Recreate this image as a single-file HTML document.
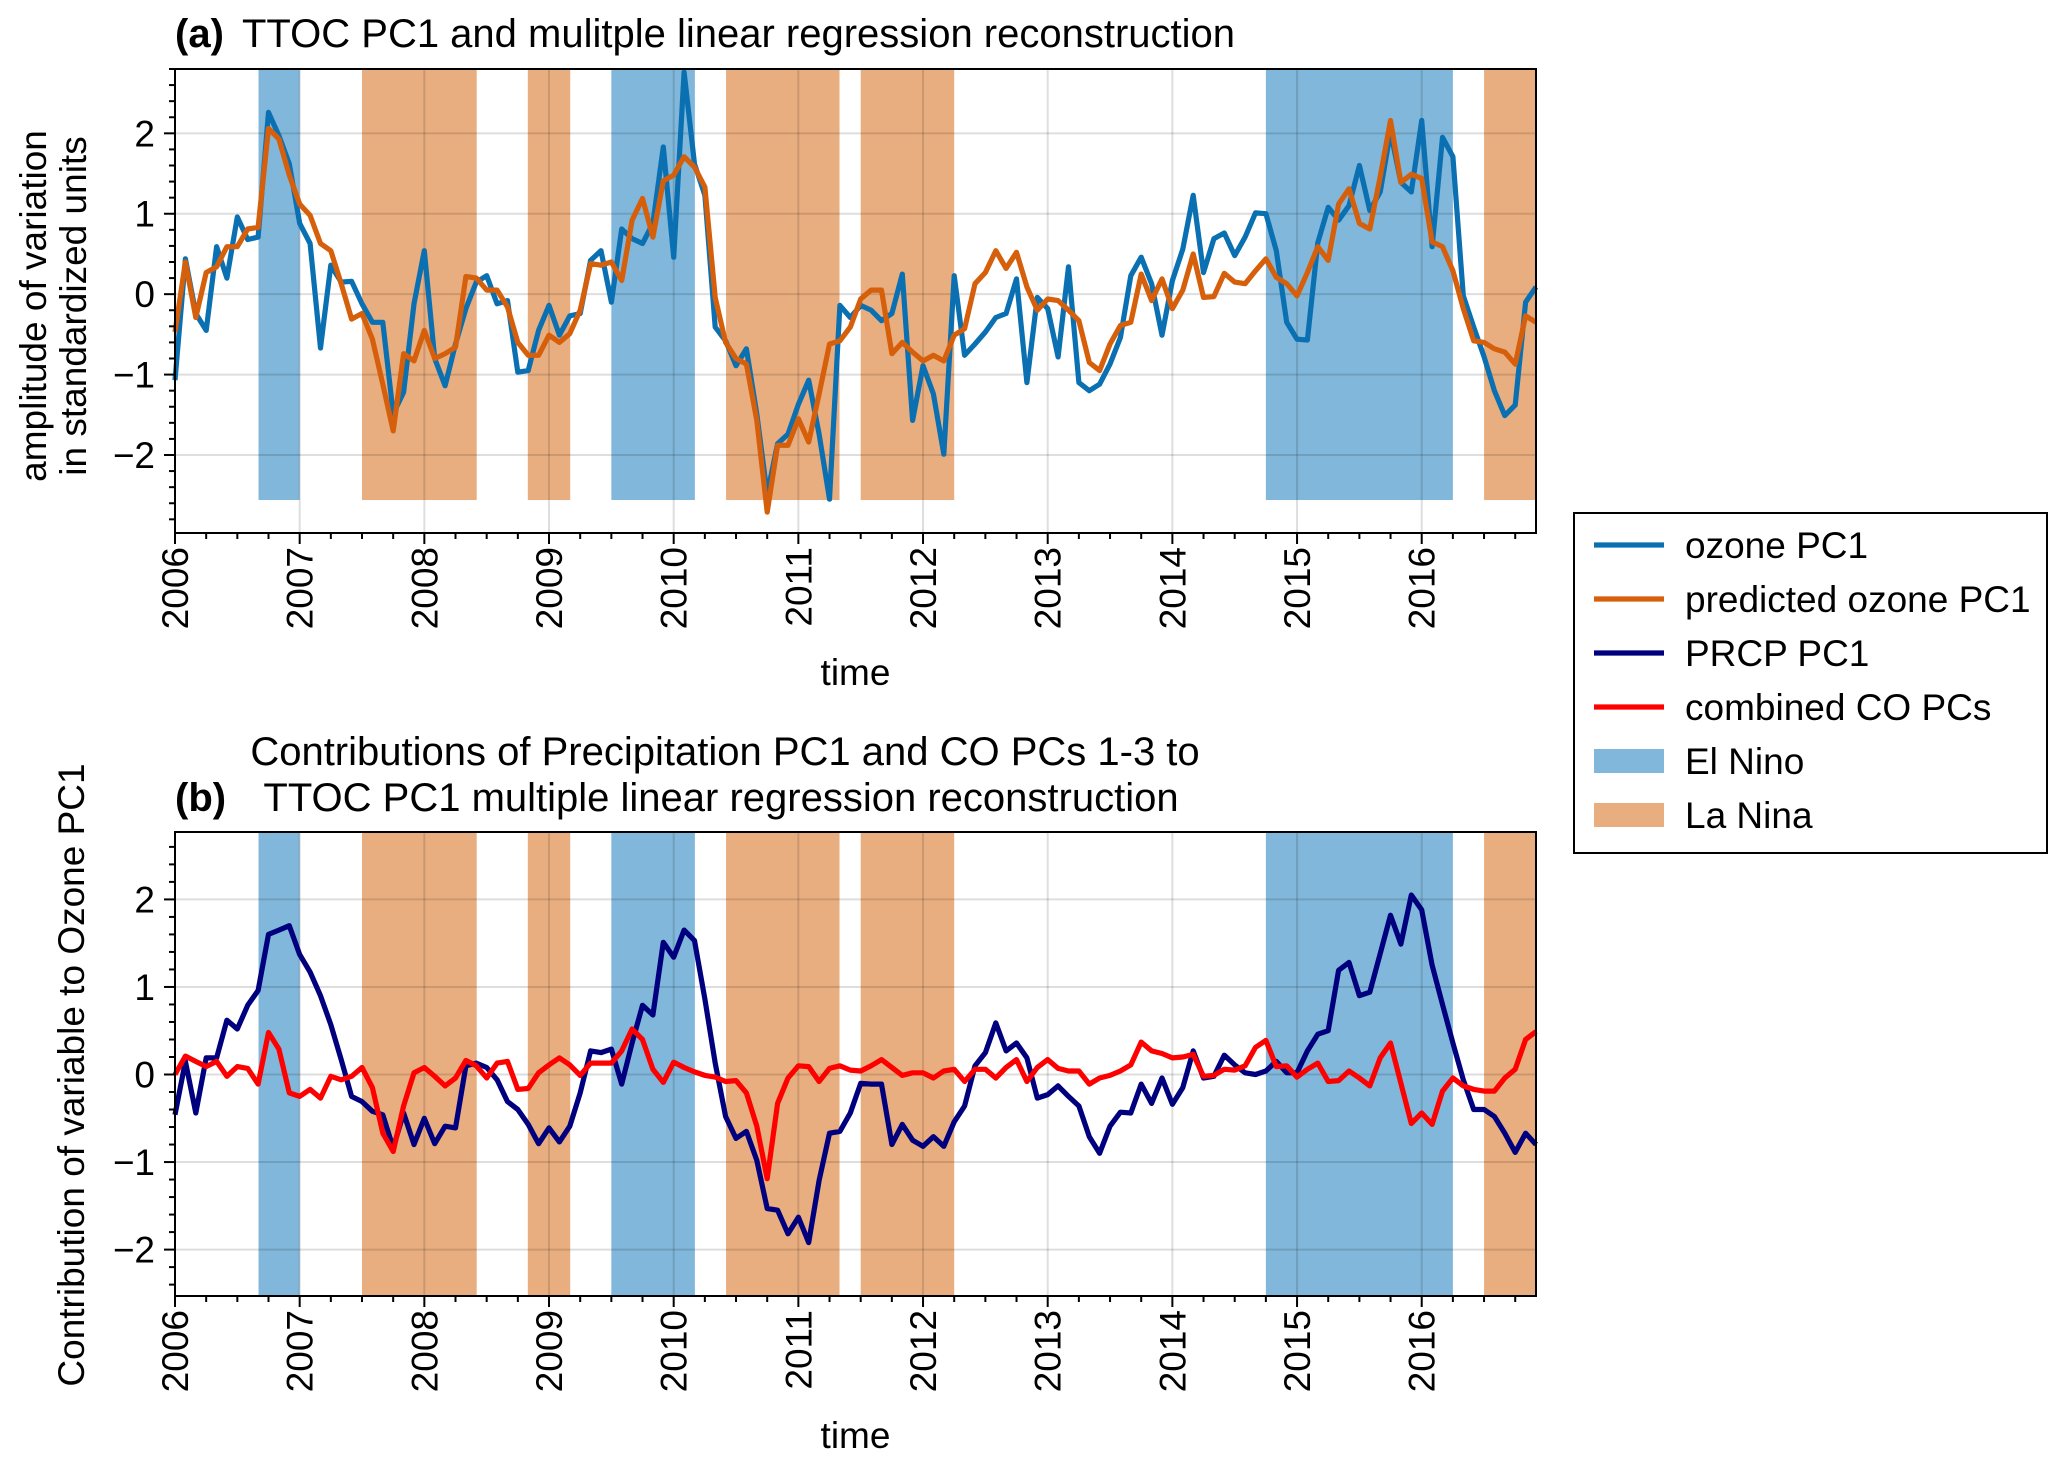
<!DOCTYPE html>
<html><head><meta charset="utf-8"><style>
html,body{margin:0;padding:0;background:#fff}
svg{display:block;font-family:"Liberation Sans",sans-serif}
</style></head><body>
<svg id="fig" width="2067" height="1466" viewBox="0 0 2067 1466"></svg>
<script>
const ozonePC1=[-1.07,0.44,-0.24,-0.45,0.59,0.2,0.96,0.68,0.71,2.26,1.97,1.62,0.88,0.63,-0.67,0.36,0.15,0.16,-0.12,-0.35,-0.35,-1.49,-1.22,-0.12,0.54,-0.8,-1.14,-0.62,-0.18,0.15,0.23,-0.12,-0.08,-0.97,-0.95,-0.45,-0.14,-0.51,-0.27,-0.24,0.42,0.54,-0.1,0.81,0.69,0.63,0.88,1.83,0.46,2.76,1.62,1.23,-0.41,-0.58,-0.89,-0.68,-1.49,-2.49,-1.86,-1.74,-1.37,-1.07,-1.74,-2.55,-0.14,-0.29,-0.14,-0.2,-0.33,-0.24,0.25,-1.57,-0.89,-1.24,-1.99,0.23,-0.76,-0.62,-0.47,-0.29,-0.24,0.19,-1.1,-0.04,-0.18,-0.78,0.34,-1.1,-1.2,-1.12,-0.87,-0.54,0.23,0.46,0.13,-0.51,0.17,0.56,1.23,0.27,0.69,0.76,0.48,0.71,1.01,1.0,0.54,-0.35,-0.56,-0.57,0.64,1.08,0.92,1.1,1.6,1.04,1.27,2.02,1.39,1.27,2.16,0.59,1.95,1.71,-0.02,-0.41,-0.78,-1.2,-1.51,-1.38,-0.1,0.09];
const predictedPC1=[-0.47,0.4,-0.29,0.27,0.34,0.59,0.59,0.81,0.83,2.06,1.93,1.48,1.12,0.98,0.63,0.54,0.13,-0.31,-0.24,-0.56,-1.12,-1.7,-0.74,-0.83,-0.45,-0.8,-0.74,-0.66,0.22,0.2,0.05,0.05,-0.16,-0.6,-0.76,-0.76,-0.51,-0.6,-0.49,-0.2,0.38,0.36,0.4,0.17,0.92,1.19,0.71,1.41,1.48,1.71,1.58,1.33,-0.04,-0.6,-0.8,-0.87,-1.57,-2.71,-1.88,-1.88,-1.55,-1.84,-1.24,-0.62,-0.58,-0.41,-0.06,0.05,0.05,-0.74,-0.6,-0.72,-0.83,-0.76,-0.83,-0.51,-0.43,0.13,0.27,0.54,0.32,0.52,0.09,-0.2,-0.06,-0.08,-0.2,-0.33,-0.85,-0.95,-0.62,-0.39,-0.35,0.25,-0.08,0.19,-0.18,0.05,0.5,-0.04,-0.03,0.26,0.15,0.13,0.29,0.44,0.21,0.13,-0.02,0.27,0.59,0.42,1.12,1.31,0.88,0.81,1.46,2.16,1.39,1.49,1.44,0.65,0.59,0.29,-0.18,-0.58,-0.6,-0.68,-0.72,-0.87,-0.27,-0.35];
const prcpPC1=[-0.46,0.15,-0.44,0.19,0.19,0.62,0.52,0.79,0.96,1.6,1.65,1.7,1.37,1.17,0.9,0.57,0.17,-0.25,-0.31,-0.42,-0.46,-0.84,-0.44,-0.8,-0.5,-0.79,-0.59,-0.61,0.1,0.13,0.08,-0.06,-0.31,-0.4,-0.57,-0.79,-0.61,-0.77,-0.59,-0.21,0.27,0.25,0.29,-0.11,0.36,0.79,0.68,1.51,1.34,1.65,1.53,0.86,0.13,-0.48,-0.73,-0.65,-0.98,-1.53,-1.55,-1.82,-1.63,-1.92,-1.21,-0.67,-0.65,-0.44,-0.1,-0.11,-0.11,-0.8,-0.57,-0.75,-0.82,-0.71,-0.82,-0.54,-0.36,0.1,0.25,0.59,0.27,0.36,0.19,-0.27,-0.23,-0.13,-0.25,-0.36,-0.71,-0.9,-0.59,-0.43,-0.44,-0.11,-0.33,-0.04,-0.34,-0.15,0.27,-0.04,-0.02,0.22,0.11,0.02,0,0.04,0.15,0.02,0.02,0.27,0.46,0.5,1.19,1.28,0.9,0.94,1.38,1.82,1.49,2.05,1.88,1.25,0.8,0.36,-0.06,-0.4,-0.4,-0.48,-0.67,-0.89,-0.67,-0.8];
const coPCs=[0,0.21,0.15,0.09,0.15,-0.02,0.09,0.07,-0.11,0.48,0.29,-0.21,-0.25,-0.17,-0.27,-0.02,-0.06,-0.02,0.08,-0.15,-0.67,-0.88,-0.36,0.02,0.08,-0.02,-0.13,-0.04,0.16,0.1,-0.04,0.13,0.15,-0.17,-0.16,0.02,0.11,0.19,0.11,-0.01,0.13,0.13,0.13,0.27,0.52,0.4,0.06,-0.09,0.14,0.08,0.03,-0.01,-0.03,-0.08,-0.07,-0.21,-0.59,-1.19,-0.33,-0.04,0.1,0.09,-0.08,0.07,0.1,0.05,0.04,0.1,0.17,0.08,-0.01,0.02,0.02,-0.04,0.04,0.06,-0.08,0.06,0.06,-0.04,0.08,0.17,-0.08,0.08,0.17,0.07,0.04,0.04,-0.11,-0.04,-0.01,0.04,0.11,0.37,0.27,0.24,0.19,0.2,0.23,-0.02,-0.01,0.06,0.05,0.1,0.31,0.39,0.09,0.1,-0.03,0.06,0.13,-0.08,-0.07,0.04,-0.04,-0.13,0.19,0.36,-0.1,-0.56,-0.44,-0.57,-0.19,-0.04,-0.13,-0.17,-0.19,-0.19,-0.04,0.06,0.4,0.49];
const elNinoStart=[2006.67,2009.5,2014.75];
const elNinoEnd=[2007.0,2010.17,2016.25];
const laNinaStart=[2007.5,2008.83,2010.42,2011.5,2016.5];
const laNinaEnd=[2008.42,2009.17,2011.33,2012.25,2016.92];
const yearTicks=[2006,2007,2008,2009,2010,2011,2012,2013,2014,2015,2016];
const yTicks=[-2,-1,0,1,2];

const NS="http://www.w3.org/2000/svg";
const svg=document.getElementById('fig');
function mk(tag,attrs,parent){const e=document.createElementNS(NS,tag);for(const k in attrs)e.setAttribute(k,attrs[k]);(parent||svg).appendChild(e);return e;}
const X0=2006,X1=2006+131/12;
const L=175,R=1536;
const FS=37, TS=40, LW=5.2;
function xs(t){return L+(t-X0)/(X1-X0)*(R-L);}
function tOf(i){return 2006+i/12;}

function panel(p){
  const ys=v=>p.bottom-(v-p.ymin)/(p.ymax-p.ymin)*(p.bottom-p.top);
  const g=mk('g',{});
  
  
  const bandBottom=p.bandMin===null?p.bottom:ys(p.bandMin);
  for(let i=0;i<elNinoStart.length;i++){
    const r=mk('rect',{x:xs(elNinoStart[i]),y:p.top,width:xs(elNinoEnd[i])-xs(elNinoStart[i]),height:bandBottom-p.top,fill:'#80b7da'},g);
    
    
  }
  for(let i=0;i<laNinaStart.length;i++){
    const e=Math.min(laNinaEnd[i],X1);
    const r=mk('rect',{x:xs(laNinaStart[i]),y:p.top,width:xs(e)-xs(laNinaStart[i]),height:bandBottom-p.top,fill:'#e9ae7f'},g);
    
    
  }
  for(const yr of yearTicks){
    const l=mk('line',{x1:xs(yr),x2:xs(yr),y1:p.top,y2:p.bottom,stroke:'rgba(0,0,0,0.13)','stroke-width':2},g);
    
    
  }
  for(const v of yTicks){
    const l=mk('line',{x1:L,x2:R,y1:ys(v),y2:ys(v),stroke:'rgba(0,0,0,0.13)','stroke-width':2},g);
    
    
  }
  for(const s of p.series){
    const d=s.data.map((v,i)=>(i?'L':'M')+xs(tOf(i)).toFixed(1)+','+ys(v).toFixed(1)).join(' ');
    const path=mk('path',{d:d,fill:'none',stroke:s.color,'stroke-width':LW,'stroke-linejoin':'round'},g);
    
    
  }
  const fr=mk('rect',{x:L,y:p.top,width:R-L,height:p.bottom-p.top,fill:'none',stroke:'#000','stroke-width':2},g);
  
  
  for(let v=Math.ceil(p.ymin*5)/5;v<=p.ymax+1e-9;v+=0.2){
    const major=Math.abs(v-Math.round(v))<1e-6;
    const t=mk('line',{x1:L,x2:L-(major?11:6),y1:ys(v),y2:ys(v),stroke:'#000','stroke-width':2},g);
    
    
  }
  for(const v of yTicks){
    const tx=mk('text',{x:L-20,y:ys(v)+13,'text-anchor':'end','font-size':FS},g);
    tx.textContent=v<0?'\u2212'+Math.abs(v):String(v);
    
    
  }
  for(let m=0;m<=131;m+=3){
    const major=m%12===0;
    const t=mk('line',{x1:xs(tOf(m)),x2:xs(tOf(m)),y1:p.bottom,y2:p.bottom+(major?11:6),stroke:'#000','stroke-width':2},g);
    
    
  }
  for(const yr of yearTicks){
    const x=xs(yr)+13,y=p.bottom+14;
    const tx=mk('text',{x:x,y:y,'text-anchor':'end','font-size':FS,transform:`rotate(-90 ${x} ${y})`},g);
    tx.textContent=String(yr);
    
    
  }
  const xl=mk('text',{x:(L+R)/2,y:p.bottom+152,'text-anchor':'middle','font-size':FS},g);
  xl.textContent='time';
  
  
  return ys;
}

panel({name:'panel-a',top:69,bottom:533,ymin:-2.97,ymax:2.8,bandMin:-2.56,series:[
  {data:ozonePC1,color:'#0a70b2',name:'ozone-pc1-line'},
  {data:predictedPC1,color:'#d65f0b',name:'predicted-ozone-pc1-line'}]});
panel({name:'panel-b',top:832,bottom:1296,ymin:-2.53,ymax:2.77,bandMin:null,series:[
  {data:prcpPC1,color:'#00007f',name:'prcp-pc1-line'},
  {data:coPCs,color:'#ff0000',name:'combined-co-pcs-line'}]});

function text(x,y,str,size,opts,name){
  const t=mk('text',Object.assign({x:x,y:y,'font-size':size},opts||{}));
  t.textContent=str;
  
  
  return t;
}
text(175,47,'(a)',TS,{'font-weight':'bold'},'panel-a-label');
text(242,47,'TTOC PC1 and mulitple linear regression reconstruction',TS,{},'panel-a-title');
text(725,765,'Contributions of Precipitation PC1 and CO PCs 1-3 to',TS,{'text-anchor':'middle'},'panel-b-title-line1');
text(175,811,'(b)',TS,{'font-weight':'bold'},'panel-b-label');
text(721,811,'TTOC PC1 multiple linear regression reconstruction',TS,{'text-anchor':'middle'},'panel-b-title-line2');
text(46,306,'amplitude of variation',FS,{'text-anchor':'middle',transform:'rotate(-90 46 306)'},'y-axis-title-a-line1');
text(86,306,'in standardized units',FS,{'text-anchor':'middle',transform:'rotate(-90 86 306)'},'y-axis-title-a-line2');
text(84,1075,'Contribution of variable to Ozone PC1',FS,{'text-anchor':'middle',transform:'rotate(-90 84 1075)'},'y-axis-title-b');

const lg=mk('g',{});


const lb=mk('rect',{x:1574,y:513,width:473,height:340,fill:'#fff',stroke:'#000','stroke-width':2},lg);


const legLabels=['ozone PC1','predicted ozone PC1','PRCP PC1','combined CO PCs','El Nino','La Nina'];
const legColors=['#0a70b2','#d65f0b','#00007f','#ff0000','#80b7da','#e9ae7f'];
const legY=[545,599,653,707,761,815];
for(let i=0;i<legLabels.length;i++){
  const ent=mk('g',{},lg);
  
  
  if(i<4){mk('line',{x1:1594,x2:1664,y1:legY[i],y2:legY[i],stroke:legColors[i],'stroke-width':LW},ent);}
  else{mk('rect',{x:1594,y:legY[i]-12,width:70,height:24,fill:legColors[i]},ent);}
  const t=mk('text',{x:1685,y:legY[i]+13,'font-size':FS},ent);
  t.textContent=legLabels[i];
}
</script>
</body></html>
